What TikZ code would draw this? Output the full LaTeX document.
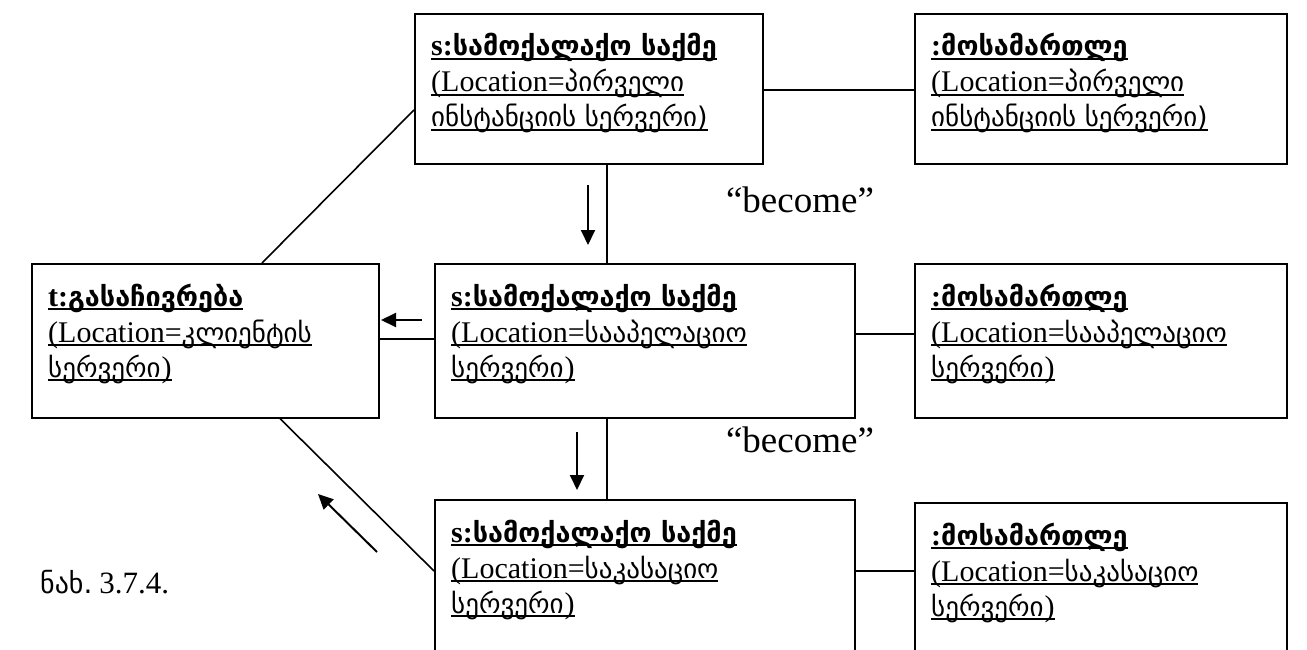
\documentclass[tikz,border=0pt]{standalone}
\usepackage{fontspec}
\setmainfont{Liberation Serif}
\newfontfamily\geo{DejaVu Sans}[Scale=0.9]
\usetikzlibrary{arrows.meta,calc}

% underline at a fixed depth below the baseline
\newcommand\ulbox[1]{\setbox0=\hbox{#1}\rlap{\rule[-4pt]{\wd0}{1.8pt}}\box0}

% three underlined lines of an object box
\newcommand\objtext[4]{%
  \node[txtline] (#1-a) at ($(#1.north west)+(17,43)$) {\ulbox{\bfseries #2}};
  \node[txtline] (#1-b) at ($(#1.north west)+(17,79)$) {\ulbox{#3}};
  \node[txtline] (#1-c) at ($(#1.north west)+(17,114)$) {\ulbox{#4}};}

\tikzset{
  objbox/.style={draw, line width=1.6pt, anchor=north west, inner sep=0pt},
  txtline/.style={anchor=base west, inner sep=0pt, font=\fontsize{30}{36}\selectfont},
  conn/.style={line width=1.6pt},
  flow/.style={line width=2pt, -{Triangle[length=15pt,width=14pt]}},
  note/.style={inner sep=0pt, font=\fontsize{37}{40}\selectfont},
}

\begin{document}
\begin{tikzpicture}[x=1pt,y=-1pt]
\useasboundingbox (0,0) rectangle (1307,650);
\clip (0,0) rectangle (1307,650);

% object boxes
\node[objbox, minimum width=348pt, minimum height=150pt] (tc) at (414,13) {};
\node[objbox, minimum width=372pt, minimum height=150pt] (tr) at (914,13) {};
\node[objbox, minimum width=347pt, minimum height=154pt] (t)  at (31,263) {};
\node[objbox, minimum width=420pt, minimum height=154pt] (mc) at (434,263) {};
\node[objbox, minimum width=372pt, minimum height=154pt] (mr) at (914,263) {};
\node[objbox, minimum width=420pt, minimum height=220pt] (bc) at (434,499) {};
\node[objbox, minimum width=372pt, minimum height=220pt] (br) at (914,502) {};

\objtext{tc}{s:{\geo სამოქალაქო საქმე}}{(Location={\geo პირველი}}{{\geo ინსტანციის სერვერი)}}
\objtext{tr}{:{\geo მოსამართლე}}{(Location={\geo პირველი}}{{\geo ინსტანციის სერვერი)}}
\objtext{t}{t:{\geo გასაჩივრება}}{(Location={\geo კლიენტის}}{{\geo სერვერი}\kern1pt)}
\objtext{mc}{s:{\geo სამოქალაქო საქმე}}{(Location={\geo სააპელაციო}}{{\geo სერვერი}\kern1pt)}
\objtext{mr}{:{\geo მოსამართლე}}{(Location={\geo სააპელაციო}}{{\geo სერვერი}\kern1pt)}
\objtext{bc}{s:{\geo სამოქალაქო საქმე}}{(Location={\geo საკასაციო}}{{\geo სერვერი}\kern1pt)}
\objtext{br}{:{\geo მოსამართლე}}{(Location={\geo საკასაციო}}{{\geo სერვერი}\kern1pt)}

% links between objects
\draw[conn] (tc.east |- 0,90) -- (tr.west |- 0,90);
\draw[conn] (tc.south -| 607,0) -- (mc.north -| 607,0);
\draw[conn] (mc.south -| 607,0) -- (bc.north -| 607,0);
\draw[conn] (t.east |- 0,339) -- (mc.west |- 0,339);
\draw[conn] (mc.east |- 0,334) -- (mr.west |- 0,334);
\draw[conn] (bc.east |- 0,571) -- (br.west |- 0,571);
\draw[conn] (tc.west |- 0,110) -- (t.north -| 262,0);
\draw[conn] (t.south -| 280,0) -- (bc.west |- 0,571);

% message arrows
\coordinate (a1s) at (588,185); \coordinate (a1e) at (588,245);
\coordinate (a2s) at (422,320); \coordinate (a2e) at (381,320);
\coordinate (a3s) at (577,432); \coordinate (a3e) at (577,490);
\coordinate (a4s) at (377,552); \coordinate (a4e) at (318,494);
\draw[flow] (a1s) -- (a1e);
\draw[flow] (a2s) -- (a2e);
\draw[flow] (a3s) -- (a3e);
\draw[flow] (a4s) -- (a4e);

% stereotype labels
\node[note] (b1) at (800,200) {“become”};
\node[note] (b2) at (800,440) {“become”};

% figure caption
\node[anchor=base west, inner sep=0pt, font=\fontsize{31}{36}\selectfont] (cap) at (40,593) {{\geo ნახ.}\kern7pt 3.7.4.};
\end{tikzpicture}
\end{document}
